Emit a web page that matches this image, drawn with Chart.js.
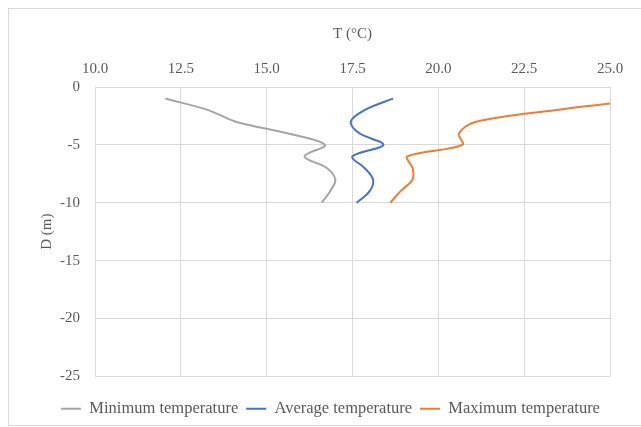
<!DOCTYPE html>
<html>
<head>
<meta charset="utf-8">
<script src="https://cdn.jsdelivr.net/npm/chart.js@4/dist/chart.umd.min.js"></script>
<style>
  html, body { margin: 0; padding: 0; background: #fff; }
  #box { width: 641px; height: 427px; }
</style>
</head>
<body>
<div id="box"><canvas id="grafico"></canvas></div>
<script>
// profundidades (m) e temperaturas (°C) por série
const profundidade = [-1, -2, -3, -4, -5, -6, -7, -8, -9, -10];
const tempMinima = [12.05, 13.3, 14.1, 15.6, 16.7, 16.1, 16.75, 17.0, 16.85, 16.6];
const tempMedia = [18.68, 17.85, 17.45, 17.7, 18.4, 17.5, 17.85, 18.1, 18.0, 17.62];
const tempMaxima = [26.3, 23.4, 21.1, 20.6, 20.7, 19.1, 19.25, 19.25, 18.9, 18.6];

const nomes = ['Minimum temperature', 'Average temperature', 'Maximum temperature'];
const cores = ['#A5A5A5', '#4472C4', '#ED7D31'];

const fonte = '"Liberation Serif", "Times New Roman", serif';
const cinzaTexto = '#595959';
const cinzaGrade = '#D9D9D9';

// junta temperatura (x) com profundidade (y)
const pontos = (temps) => temps.map((t, i) => ({ x: t, y: profundidade[i] }));

const series = [tempMinima, tempMedia, tempMaxima].map((temps, i) => ({
  label: nomes[i],
  data: pontos(temps),
  borderColor: cores[i],
  backgroundColor: cores[i],
  borderWidth: 2,
  pointRadius: 0,
  showLine: true,
  tension: 0.35,
  clip: 0
}));

// moldura cinza em volta do gráfico
const moldura = {
  id: 'moldura',
  beforeDraw(chart) {
    const c = chart.ctx;
    c.save();
    c.fillStyle = '#fff';
    c.fillRect(0, 0, chart.width, chart.height);
    c.strokeStyle = cinzaGrade;
    c.lineWidth = 1;
    c.strokeRect(8.5, 8.5, 660, 417);
    c.restore();
  }
};

const ctx = document.getElementById('grafico').getContext('2d');

new Chart(ctx, {
  type: 'scatter',
  data: { datasets: series },
  options: {
    responsive: true,
    maintainAspectRatio: false,
    animation: false,
    layout: { padding: { left: 20, top: 8, right: 0, bottom: 0 } },
    scales: {
      x: {
        type: 'linear',
        position: 'top',
        min: 10,
        max: 25,
        ticks: {
          stepSize: 2.5,
          padding: 9,
          color: cinzaTexto,
          font: { family: fonte, size: 15 },
          callback: (v) => v.toFixed(1)
        },
        grid: { color: cinzaGrade, drawTicks: false },
        border: { color: cinzaGrade },
        title: {
          display: true,
          text: 'T (°C)',
          color: cinzaTexto,
          font: { family: fonte, size: 15 },
          padding: { top: 17, bottom: 0 }
        },
        afterFit: (escala) => { escala.height = 79; }
      },
      y: {
        type: 'linear',
        min: -25,
        max: 0,
        ticks: {
          stepSize: 5,
          padding: 15,
          color: cinzaTexto,
          font: { family: fonte, size: 15 }
        },
        grid: { color: cinzaGrade, drawTicks: false },
        border: { color: cinzaGrade },
        title: {
          display: true,
          text: 'D (m)',
          color: cinzaTexto,
          font: { family: fonte, size: 15 },
          padding: { top: 18, bottom: 0 }
        },
        afterFit: (escala) => { escala.width = 75; }
      },
      // eixo vazio à direita, só para reservar a margem
      margem: {
        type: 'linear',
        position: 'right',
        ticks: { display: false },
        grid: { display: false },
        border: { display: false },
        afterFit: (escala) => { escala.width = 31; }
      }
    },
    plugins: {
      legend: {
        position: 'bottom',
        title: {
          display: true,
          text: ' ',
          font: { size: 1 },
          padding: { top: 7, bottom: 8 }
        },
        labels: {
          color: cinzaTexto,
          font: { family: fonte, size: 16.5 },
          boxWidth: 20,
          boxHeight: 2,
          padding: 8,
          generateLabels: (chart) =>
            Chart.defaults.plugins.legend.labels.generateLabels(chart).map((item) => ({
              ...item,
              lineWidth: 0,
              fillStyle: item.strokeStyle
            }))
        }
      },
      tooltip: { enabled: false }
    }
  },
  plugins: [moldura]
});
</script>
</body>
</html>
